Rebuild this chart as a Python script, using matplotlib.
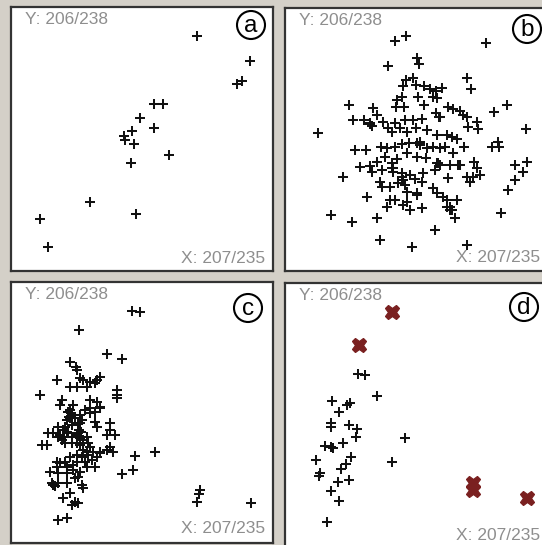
import matplotlib
matplotlib.use("Agg")
import matplotlib.pyplot as plt
from matplotlib.patches import Ellipse

W, H = 542, 545

# ---------------- data ----------------
a_x = [590, 750, 712, 725, 462, 490, 421, 462, 395, 372, 375, 403, 508, 393, 270, 408, 120, 143]
a_y = [108, 183, 252, 243, 311, 311, 355, 383, 392, 408, 420, 432, 465, 489, 606, 641, 657, 742]

b_x = [375, 408, 648, 440, 447, 355, 590, 603,
       408, 430, 437, 400, 462, 480, 498, 515,
       395, 443, 490, 500, 380,
       238, 308, 322, 378, 402, 462, 497, 508, 533, 550, 570, 580,
       673, 710,
       250, 283, 300, 305, 340, 375, 405, 430, 455, 590, 595, 622, 624,
       143, 767,
       355, 365, 390, 410, 437, 470, 500, 530, 545, 560, 582,
       255, 287, 333, 350, 375, 395, 418, 450, 470, 490, 510, 525, 550, 665, 688, 685,
       270, 300, 320, 345, 365, 380, 410, 440, 468, 500, 540, 570, 612, 620, 630, 610, 735, 770, 760,
       220, 305, 335, 368, 395, 420, 435, 460, 455, 495, 535, 590, 600, 735,
       330, 335, 360, 385, 405, 412, 440, 490, 500, 520, 530, 715,
       290, 360, 375, 400, 410, 350, 420, 455, 540, 560, 530, 545,
       182, 245, 322, 555, 693,
       495,
       330, 425, 592,
       300, 365, 370, 440, 450, 505, 510, 565, 510, 400, 395, 440, 540, 450]
b_y = [122, 108, 130, 175, 192, 198, 235, 268,
       240, 235, 255, 258, 258, 268, 272, 265,
       290, 290, 290, 295, 300,
       315, 325, 345, 322, 320, 315, 340, 350, 322, 328, 333, 345,
       335, 315,
       360, 360, 370, 378, 365, 370, 360, 360, 358, 352, 380, 365, 388,
       400, 388,
       385, 395, 385, 395, 385, 390, 405, 405, 410, 418, 440,
       450, 450, 440, 445, 440, 432, 428, 430, 445, 440, 445, 440, 460, 440, 440, 425,
       500, 497, 485, 470, 490, 478, 460, 470, 475, 490, 495, 495, 485, 505, 525, 530, 495, 485, 515,
       530, 515, 510, 505, 520, 525, 538, 520, 545, 510, 535, 530, 545, 540,
       545, 560, 560, 548, 555, 575, 580, 565, 580, 590, 600, 570,
       592, 600, 600, 615, 605, 620, 630, 625, 620, 600, 620, 630,
       645, 665, 653, 655, 640,
       690,
       720, 740, 735,
       372, 505, 515, 430, 425, 490, 495, 495, 350, 540, 530, 585, 630, 435]

c_x = [395, 420, 238, 322, 365, 210, 228, 230,
       172, 240, 250, 270, 292, 300,
       210, 230, 260, 285,
       120, 352, 352, 352,
       185, 180, 220, 270, 290, 300, 270, 255, 285,
       210, 215, 210, 240, 270, 300,
       175, 195, 215, 240, 245, 285, 290, 330, 330,
       145, 180, 200, 215, 235, 240, 260, 320, 345,
       125, 140, 195, 215, 240, 270, 280, 300, 320, 330, 340,
       405, 465,
       170, 195, 210, 230, 255, 275, 285, 260,
       150, 175, 200, 220, 240, 365, 400,
       160, 175, 200, 225, 235, 245, 250,
       190, 210, 225, 215, 235,
       600, 597, 590, 752, 175, 200,
       205, 212, 208, 235, 238, 242, 230, 205, 190, 185, 175, 230, 250, 260,
       265, 290, 300, 250, 265, 200, 225, 190, 160, 230, 245, 155, 165, 220,
       200, 180, 170]
c_y = [123, 127, 180, 253, 267, 275, 290, 300,
       330, 325, 330, 335, 330, 320,
       350, 350, 350, 340,
       375, 360, 375, 385,
       390, 405, 405, 390, 395, 410, 415, 420, 425,
       420, 435, 445, 435, 430, 415,
       470, 470, 465, 460, 450, 455, 470, 460, 480,
       490, 495, 485, 500, 490, 505, 500, 495, 495,
       525, 525, 520, 520, 525, 530, 545, 550, 540, 530, 545,
       558, 545,
       575, 575, 560, 575, 575, 570, 590, 590,
       605, 610, 610, 600, 605, 612, 600,
       645, 640, 640, 625, 620, 645, 655,
       685, 670, 695, 705, 700,
       660, 672, 695, 698, 750, 745,
       425, 430, 440, 460, 480, 485, 495, 490, 500, 510, 500, 520, 540, 545,
       555, 560, 545, 510, 520, 450, 445, 480, 490, 555, 560, 640, 648, 585,
       590, 580, 590]

d_x = [265, 285, 322, 185, 230, 240, 207, 182, 182, 237, 262, 258, 405,
       165, 190, 220, 183, 138, 242, 228, 212, 365, 150, 148, 205, 238, 183, 208, 172]
d_y = [313, 315, 378, 392, 405, 400, 425, 460, 470, 465, 478, 500, 503,
       528, 535, 518, 530, 570, 562, 583, 598, 575, 610, 618, 635, 630, 662, 693, 755]
d_sel_x = [365, 268, 610, 610, 770]
d_sel_y = [127, 225, 640, 660, 685]

y_label = "Y: 206/238"
x_label = "X: 207/235"
panel_letters = ["a", "b", "c", "d"]

# ---------------- layout ----------------
BG = "#d4d0c8"
fig = plt.figure(figsize=(W / 100, H / 100), dpi=100, facecolor=BG)

frames = [(11, 7, 273, 271), (285, 8, 549, 271), (11, 282, 273, 543), (285, 283, 549, 549)]
origins = [(0, 0), (270, 0), (0, 270), (270, 270)]
circles = [(251, 25), (527, 29), (248, 308), (524, 307)]
xlab_pos = [(265, 263), (540, 262), (265, 533), (540, 540)]

data = [(a_x, a_y), (b_x, b_y), (c_x, c_y), (d_x, d_y)]

for i, ((L, T, R, B), (ox, oy)) in enumerate(zip(frames, origins)):
    ax = fig.add_axes([L / W, 1 - B / H, (R - L) / W, (B - T) / H])
    ax.set_facecolor("white")
    ax.set_xlim((L - ox) * 3, (R - ox) * 3)
    ax.set_ylim((B - oy) * 3, (T - oy) * 3)
    ax.set_xticks([])
    ax.set_yticks([])
    for s in ax.spines.values():
        s.set_color("#333333")
        s.set_linewidth(1.6)
    xs, ys = data[i]
    ax.plot(xs, ys, linestyle="none", marker="+", markersize=6.8,
            markeredgewidth=1.45, color="#111111")
    if i == 3:
        ax.plot(d_sel_x, d_sel_y, linestyle="none", marker="X", markersize=10.5,
                markeredgewidth=0.9, color="#7a2020", markeredgecolor="#7a2020")
    fig.text((L + 14) / W, 1 - (T + 5) / H, y_label, ha="left", va="top",
             fontsize=12.5, color="#8e8e8e", family="Liberation Sans")
    xr, yb = xlab_pos[i]
    fig.text(xr / W, 1 - yb / H, x_label, ha="right", va="baseline",
             fontsize=12.5, color="#8e8e8e", family="Liberation Sans")
    cx, cy = circles[i]
    e = Ellipse((cx / W, 1 - cy / H), 28 / W, 28 / H, transform=fig.transFigure,
                facecolor="none", edgecolor="black", linewidth=1.5, zorder=5)
    fig.add_artist(e)
    fig.text(cx / W, 1 - (cy + 1) / H, panel_letters[i], ha="center", va="center",
             fontsize=17.5, color="black", family="Liberation Sans")

fig.savefig("out.png", dpi=100, facecolor=BG)
